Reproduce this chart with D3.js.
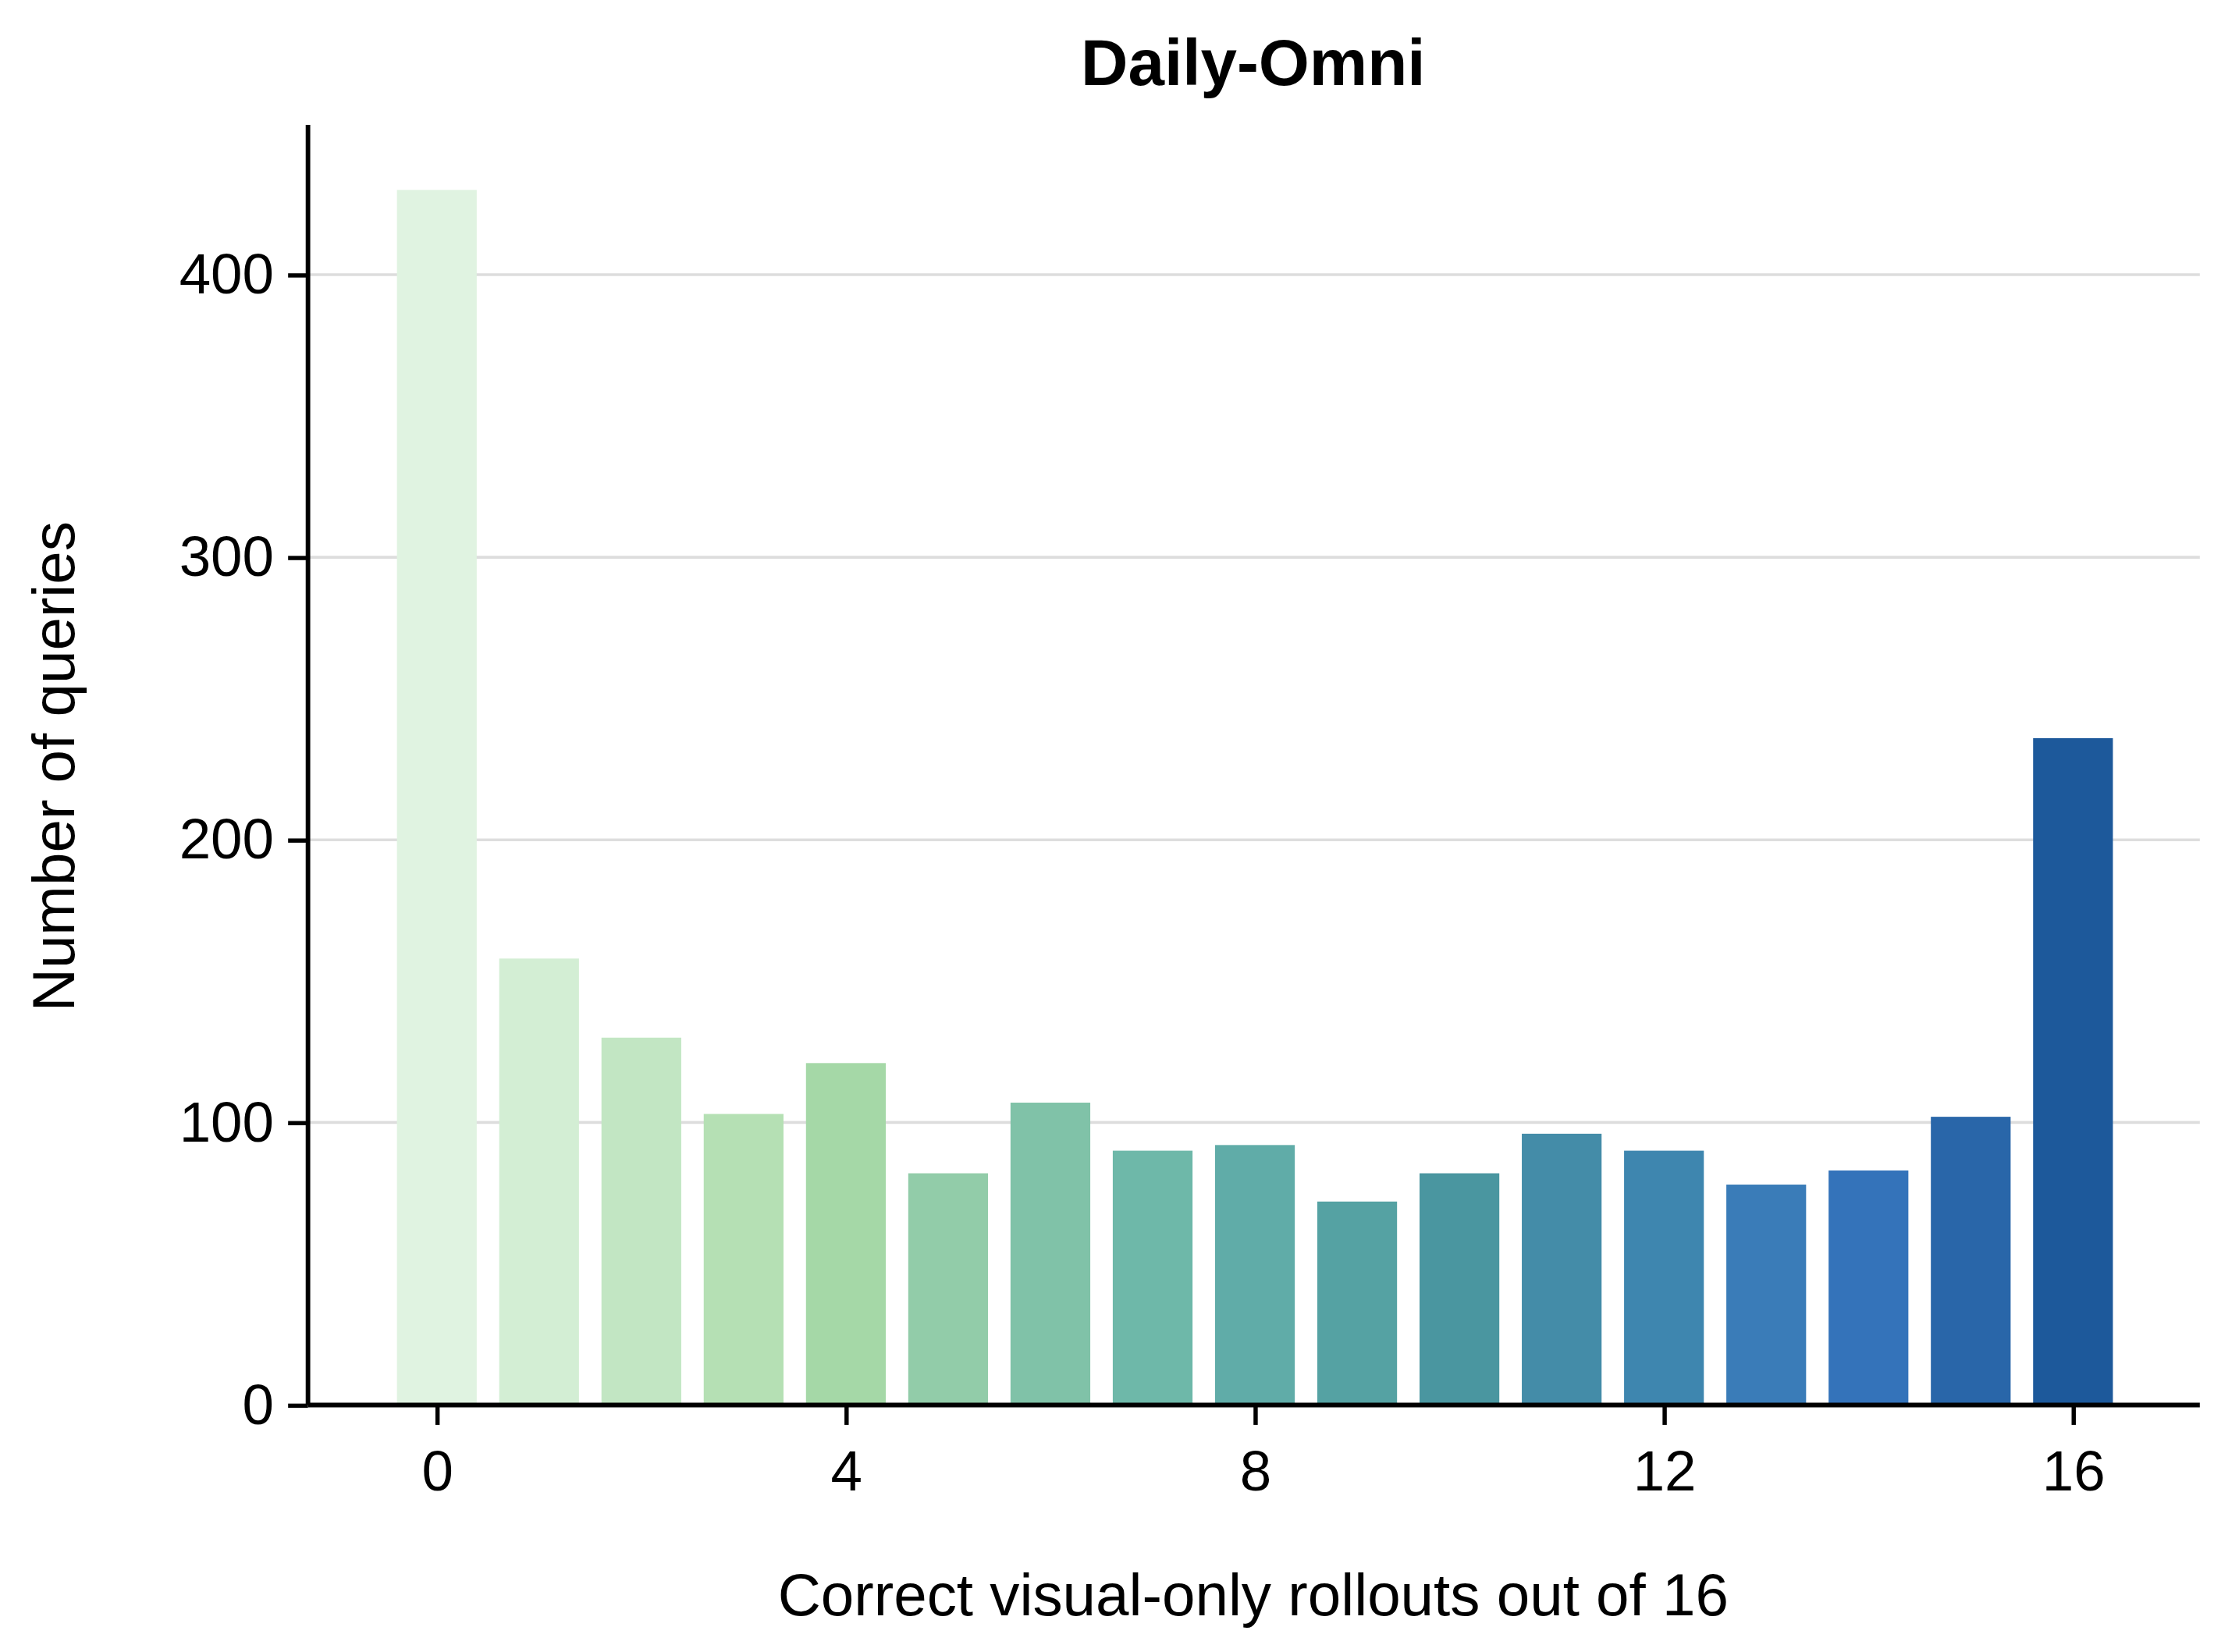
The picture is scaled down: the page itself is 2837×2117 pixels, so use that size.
<!DOCTYPE html>
<html><head><meta charset="utf-8">
<script src="https://cdn.jsdelivr.net/npm/d3@7"></script>
<style>body{margin:0;background:#fff}text{font-family:"Liberation Sans",Arial,sans-serif}</style>
</head><body>
<svg id="c" width="2837" height="2117" viewBox="0 0 1560 1164"></svg>
<script>
// data
var bins = d3.range(0, 17);
var counts = [430, 158, 130, 103, 121, 82, 107, 90, 92, 72, 82, 96, 90, 78, 83, 102, 236];
var colors = ["#e0f3e1","#d3eed4","#c2e6c3","#b5e0b4","#a5d8a7","#92cca9","#80c2a8","#6eb8a9","#60aca8","#55a2a3","#4a96a0","#448ca8","#3e86af","#3a7cb8","#3473ba","#2966a9","#1d599b"];
var xTicks = [0, 4, 8, 12, 16];
var yTicks = [0, 100, 200, 300, 400];

var svg = d3.select("#c");
var pLeft = 217, pRight = 1550, pTop = 88, pBottom = 990;
var x = d3.scaleLinear().domain([-1.26, 17.24]).range([pLeft, pRight]);
var y = d3.scaleLinear().domain([0, 453]).range([pBottom, pTop]);
var bw = x(0.39) - x(-0.39);

// grid
svg.selectAll("line.grid").data(yTicks.slice(1)).enter().append("line")
    .attr("x1", pLeft).attr("x2", pRight)
    .attr("y1", function(d) { return y(d); }).attr("y2", function(d) { return y(d); })
    .attr("stroke", "#dddddd").attr("stroke-width", 2);

svg.selectAll("rect").data(counts).enter().append("rect")
    .attr("x", function(d, i) { return x(bins[i]) - bw / 2; })
    .attr("y", function(d) { return y(d); })
    .attr("width", bw)
    .attr("height", function(d) { return pBottom - y(d); })
    .attr("fill", function(d, i) { return colors[i]; });

var xa = svg.append("g").attr("transform", "translate(0," + pBottom + ")")
    .call(d3.axisBottom(x).tickValues(xTicks).tickSize(14).tickPadding(18).tickFormat(d3.format("d")));
var ya = svg.append("g").attr("transform", "translate(" + pLeft + ",0)")
    .call(d3.axisLeft(y).tickValues(yTicks).tickSize(14).tickPadding(10));
[xa, ya].forEach(function(a) {
    a.select(".domain").attr("stroke", "#000").attr("stroke-width", 3.2);
    a.selectAll(".tick line").attr("stroke", "#000").attr("stroke-width", 3);
    a.selectAll(".tick text").attr("font-size", 40).attr("fill", "#000")
        .style("font-family", '"Liberation Sans",Arial,sans-serif');
});
xa.select(".domain").attr("d", "M" + pLeft + ",0H" + pRight);
ya.select(".domain").attr("d", "M0," + pBottom + "V" + pTop);

svg.append("text").attr("x", 883).attr("y", 60).attr("text-anchor", "middle")
    .attr("font-size", 46).attr("font-weight", "bold").text("Daily-Omni");
svg.append("text").attr("x", 883).attr("y", 1138).attr("text-anchor", "middle")
    .attr("font-size", 42).text("Correct visual-only rollouts out of 16");
svg.append("text").attr("transform", "translate(52,540) rotate(-90)").attr("text-anchor", "middle")
    .attr("font-size", 42).text("Number of queries");
</script>
</body></html>
